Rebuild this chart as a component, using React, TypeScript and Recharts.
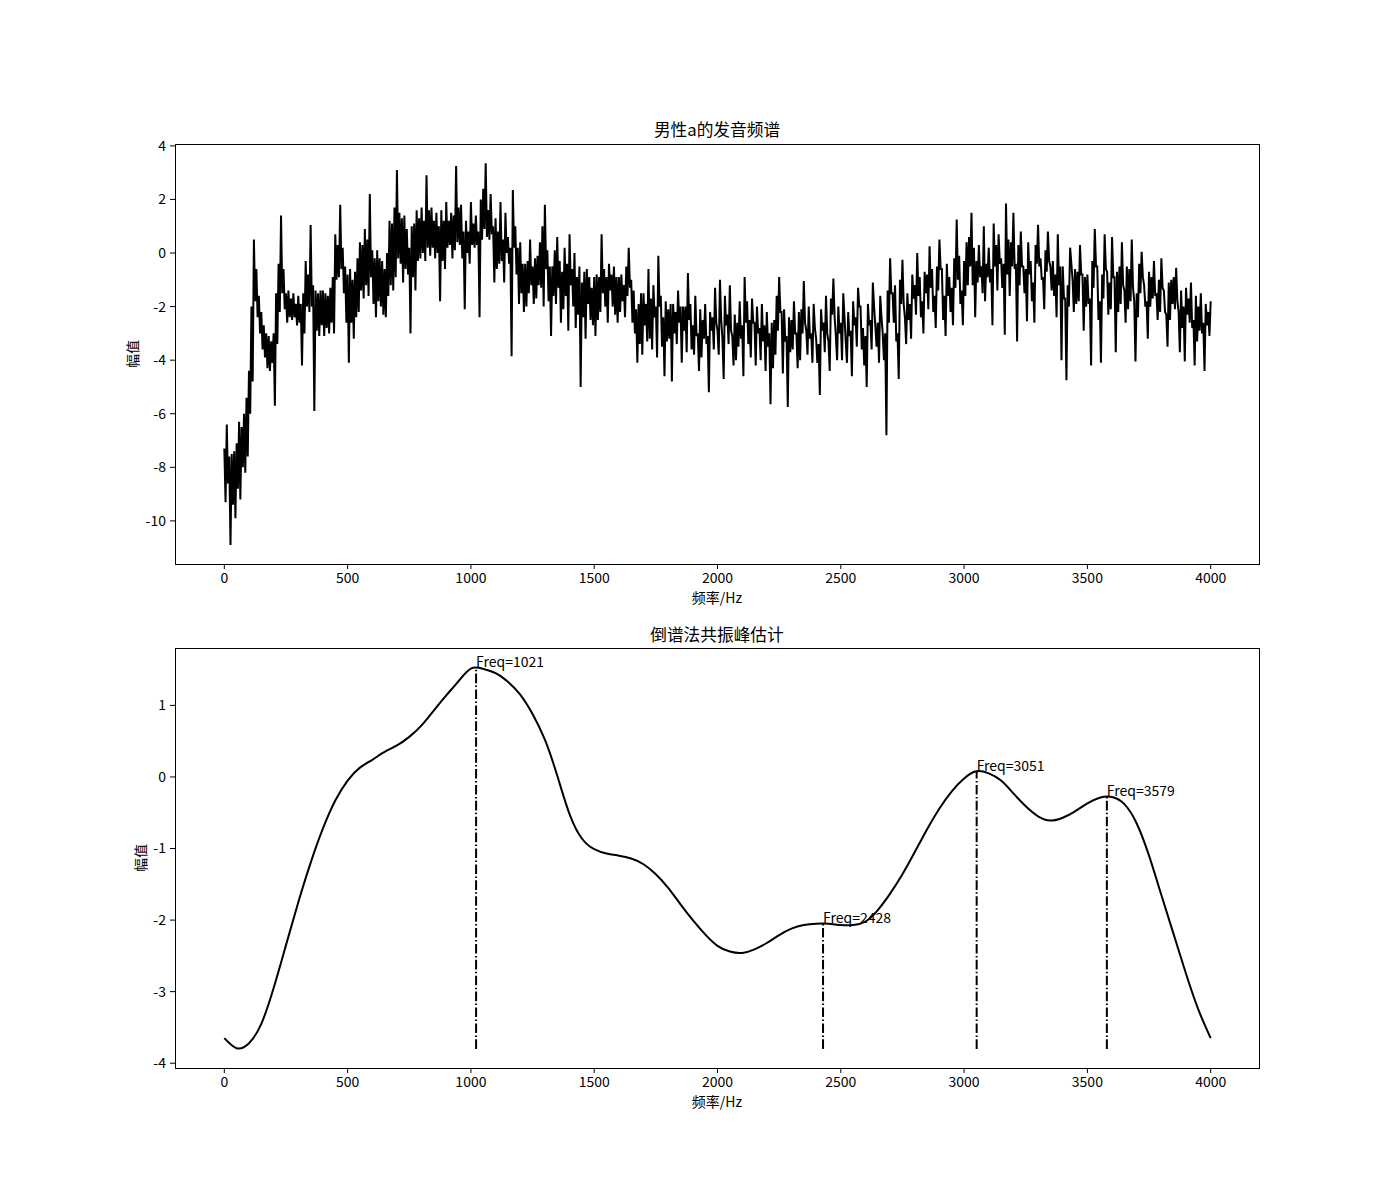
import React from 'react'
import { LineChart, ComposedChart, Line, XAxis, YAxis, ReferenceLine, ReferenceDot } from 'recharts'

const FONT = '"Noto Sans CJK SC", "Noto Sans", sans-serif'

// spectrum of male /a/, one value every 5 Hz from 0 to 4000 Hz (20 per row = 100 Hz)
const specStep = 5
const specAmp = [
  -7.3, -9.3, -6.4, -8.6, -7.6, -10.9, -7.5, -9.4, -7.4, -9.9, -7.1, -8.8, -6.3, -9.2, -6.5, -8.0, -6.0, -8.2, -5.4, -7.6,
  -4.4, -6.0, -2.0, -4.8, 0.5, -1.8, -0.6, -2.4, -1.6, -3.0, -2.2, -3.6, -2.7, -3.9, -3.0, -4.3, -3.1, -4.4, -3.3, -4.1,
  -3.0, -5.7, -1.5, -3.4, -0.4, -2.2, 1.4, -1.5, -0.6, -2.1, -1.5, -2.6, -1.4, -2.4, -1.7, -2.5, -1.5, -2.4, -1.9, -2.7,
  -1.6, -2.6, -1.9, -4.2, -1.5, -3.0, -0.3, -2.0, -0.8, -2.2, 1.05, -2.0, -1.2, -5.9, -1.4, -2.9, -1.5, -3.1, -1.4, -2.7,
  -1.4, -3.1, -1.5, -2.8, -1.6, -3.0, -1.3, -2.6, -0.9, -3.0, 0.7, -1.0, 0.3, -0.9, 1.8, -0.6, 0.2, -1.5, -0.5, -2.6,
  -0.8, -4.1, -0.6, -2.6, -1.0, -3.2, -0.7, -2.4, -0.2, -2.2, 0.4, -1.4, 0.3, -1.7, 0.9, -1.2, 0.5, -1.6, 2.2, -0.9,
  0.1, -1.9, -0.2, -2.4, 0.1, -1.8, -0.2, -2.0, -0.3, -2.3, -0.6, -2.4, 0.0, -1.6, 1.2, -1.2, 1.1, -1.4, 1.7, -0.9,
  3.1, -0.2, 1.5, -0.4, 1.3, -1.1, 1.4, -0.6, 0.9, -0.8, 0.2, -3.0, 1.0, -0.9, 1.1, -1.4, 1.6, -0.3, 1.3, -0.2,
  1.7, 0.0, 1.2, -0.3, 2.9, 0.2, 1.6, -0.1, 1.7, 0.2, 1.2, -0.2, 1.5, 0.0, 1.0, -1.8, 1.6, -0.3, 1.2, -0.6,
  1.9, 0.2, 1.2, 0.3, 1.5, -0.2, 1.4, 0.1, 3.25, 0.4, 1.7, 0.3, 1.8, -0.2, 0.8, -2.1, 1.2, 0.0, 0.8, -0.4,
  1.9, 0.3, 1.1, 0.2, 1.4, 0.3, 0.8, -2.4, 2.0, 0.5, 2.4, 0.9, 3.35, 0.6, 1.6, 0.5, 2.2, 0.7, 1.0, -1.1,
  1.3, -0.6, 0.8, -0.4, 1.9, -0.3, 0.5, -1.1, 1.5, 0.0, 0.6, -0.4, 0.2, -3.85, 2.35, 0.2, 1.0, -0.8, 0.2, -1.9,
  0.4, -1.5, -0.4, -2.2, -0.4, -2.0, -0.3, -1.5, 0.5, -1.2, -0.5, -1.9, -0.2, -1.7, -0.1, -1.2, 0.4, -1.3, 1.0, -2.0,
  1.8, -0.6, 0.1, -1.8, -0.5, -3.1, -0.5, -1.6, 0.1, -1.9, 0.6, -1.3, -0.3, -2.6, -0.7, -2.1, 0.2, -1.6, -0.4, -2.9,
  0.7, -1.2, -0.6, -2.0, 0.0, -2.8, -0.9, -2.3, -0.5, -5.0, -1.1, -2.4, -0.7, -3.2, -0.6, -1.9, -0.9, -2.5, -1.3, -2.7,
  -0.9, -3.1, -0.8, -2.5, -0.9, -2.2, 0.7, -1.5, -0.6, -2.0, -0.9, -2.6, -0.4, -1.4, -0.8, -2.0, -0.5, -2.3, -0.9, -2.6,
  -0.9, -2.2, -0.8, -1.8, -1.2, -2.4, -0.5, -1.6, 0.2, -1.3, -1.0, -2.6, -1.4, -3.0, -2.1, -4.1, -1.9, -3.4, -1.5, -3.8,
  -1.5, -2.7, -1.9, -3.3, -0.6, -3.2, -1.7, -3.6, -1.2, -2.4, -2.0, -3.9, -0.1, -2.0, -1.6, -3.5, -2.4, -4.6, -1.8, -3.3,
  -2.1, -3.2, -1.9, -4.8, -1.9, -3.0, -2.2, -3.4, -1.4, -2.6, -2.0, -4.1, -2.0, -2.9, -2.0, -3.7, -0.75, -2.5, -1.9, -3.6,
  -2.7, -3.8, -1.6, -3.1, -3.0, -4.4, -2.1, -3.9, -2.5, -3.2, -1.9, -3.4, -3.1, -5.2, -2.2, -2.9, -2.4, -3.6, -1.3, -2.6,
  -2.9, -3.8, -1.0, -2.5, -3.2, -4.7, -1.6, -2.7, -2.3, -3.4, -1.2, -2.9, -3.1, -4.2, -2.3, -4.0, -2.6, -3.5, -1.8, -3.2,
  -2.7, -4.6, -0.9, -2.6, -1.8, -3.4, -2.5, -3.9, -1.7, -2.6, -2.6, -4.2, -2.0, -3.0, -2.8, -4.0, -1.9, -3.3, -2.7, -4.4,
  -2.2, -3.5, -3.0, -5.65, -2.6, -4.3, -2.5, -3.8, -1.6, -2.9, -0.9, -2.2, -2.2, -4.5, -2.1, -3.3, -3.1, -5.75, -2.4, -3.7,
  -2.5, -3.6, -1.8, -3.0, -3.0, -4.3, -2.2, -4.0, -2.1, -3.0, -1.05, -2.6, -2.9, -3.8, -2.0, -3.2, -3.0, -4.1, -1.9, -2.8,
  -3.2, -4.1, -3.4, -5.3, -2.1, -2.9, -2.6, -3.7, -1.6, -3.0, -3.3, -4.4, -1.7, -2.3, -0.95, -2.4, -3.1, -4.0, -2.0, -3.0,
  -2.6, -4.0, -1.5, -2.4, -3.3, -4.1, -2.2, -3.1, -2.9, -4.6, -1.8, -2.7, -2.4, -3.5, -1.3, -2.0, -2.0, -3.6, -2.8, -4.2,
  -3.1, -5.0, -1.9, -2.7, -2.5, -3.6, -1.1, -2.0, -2.7, -3.5, -2.6, -4.1, -1.6, -2.4, -3.0, -4.0, -3.0, -6.8, -1.4, -2.6,
  -0.2, -1.5, -1.5, -2.6, -1.2, -3.3, -3.0, -4.7, -1.0, -1.9, -0.25, -1.9, -2.4, -3.4, -1.5, -2.5, -1.9, -3.2, -0.8, -1.7,
  -1.2, -2.3, 0.0, -1.6, -0.9, -2.4, -1.8, -3.0, -0.7, -1.5, -0.8, -2.1, 0.25, -1.3, -0.6, -2.2, -1.6, -2.8, -0.5, -1.4,
  0.5, -0.6, -0.6, -2.5, -1.6, -3.1, -0.4, -1.6, -0.9, -2.2, -1.3, -2.7, -0.2, -1.3, 1.25, -1.0, -0.1, -1.9, -1.4, -2.7,
  -0.3, -1.6, 0.4, -1.2, 0.6, -0.5, 1.5, -1.2, 0.2, -2.4, -0.3, -1.1, 0.3, -0.9, -0.5, -1.5, 1.0, -1.8, -0.4, -0.9,
  0.2, -1.1, -0.6, -2.7, 1.1, -0.5, 0.3, -1.4, 0.7, -0.4, -0.2, -1.3, -0.4, -3.05, 1.85, -0.8, 0.5, -1.6, 0.4, -0.5,
  1.5, -0.6, -0.4, -3.3, 0.3, -1.2, 0.8, -0.5, -0.5, -1.5, -0.6, -2.55, 0.4, -0.8, -0.3, -1.8, -1.1, -2.6, 0.3, -0.4,
  1.05, -0.5, -0.2, -1.0, -0.9, -2.1, 0.1, -0.7, 0.8, -0.3, -0.5, -1.4, -0.3, -1.6, -0.8, -2.4, 0.7, -1.2, -0.5, -4.0,
  -0.5, -1.7, -1.7, -4.75, -1.2, -2.0, 0.2, -0.4, -1.0, -2.2, -0.6, -1.9, -0.7, -1.8, 0.3, -0.8, -0.8, -2.9, -0.9, -2.0,
  -0.8, -1.9, -1.7, -4.2, -0.3, -1.3, 0.9, -0.5, -0.5, -2.5, -1.8, -4.1, -0.8, -1.7, 0.7, -0.6, -0.7, -2.3, -1.1, -2.1,
  0.6, -0.9, -0.9, -3.7, -0.7, -2.2, -0.5, -1.9, 0.4, -1.2, -1.4, -2.6, -0.5, -2.1, -0.6, -1.8, 0.5, -1.3, -1.8, -4.05,
  -1.5, -2.4, -0.4, -1.5, 0.05, -0.9, -1.2, -2.0, -1.8, -3.2, -0.7, -2.0, -0.9, -1.7, -0.3, -1.6, -1.5, -2.5, -1.0, -2.2,
  -0.2, -1.3, -1.4, -2.2, -2.3, -3.5, -1.1, -2.5, -1.0, -1.9, -0.9, -2.1, -0.55, -1.8, -2.2, -3.7, -1.4, -2.8, -2.0, -4.05,
  -1.3, -2.3, -1.7, -2.6, -1.1, -2.8, -2.5, -4.2, -1.6, -3.3, -2.0, -2.9, -1.5, -3.0, -2.6, -4.4, -1.9, -2.7, -2.2, -3.1,
  -1.8,
]

// cepstrum-smoothed envelope, every 50 Hz
const cepStep = 50
const cepAmp = [
  -3.65, -3.79, -3.72, -3.45, -2.95, -2.35, -1.75, -1.2, -0.72, -0.33,
  -0.05, 0.13, 0.24, 0.35, 0.44, 0.56, 0.72, 0.93, 1.14, 1.34,
  1.515, 1.51, 1.45, 1.33, 1.15, 0.88, 0.52, 0.02, -0.52, -0.86,
  -1.01, -1.07, -1.1, -1.14, -1.22, -1.36, -1.55, -1.78, -2.0, -2.2,
  -2.36, -2.44, -2.46, -2.41, -2.32, -2.21, -2.12, -2.07, -2.05, -2.05,
  -2.07, -2.07, -2.02, -1.86, -1.63, -1.36, -1.05, -0.73, -0.44, -0.2,
  -0.02, 0.08, 0.05, -0.05, -0.23, -0.41, -0.55, -0.61, -0.57, -0.48,
  -0.37, -0.29, -0.28, -0.38, -0.65, -1.1, -1.65, -2.2, -2.75, -3.25,
  -3.65,
]

const peakFreq = [1021, 2428, 3051, 3579]
const peakAmp = [1.535, -2.045, 0.08, -0.27]
const peakBase = -3.8

const freqTicks = [0, 500, 1000, 1500, 2000, 2500, 3000, 3500, 4000]
const specTicks = [4, 2, 0, -2, -4, -6, -8, -10]
const cepTicks = [1, 0, -1, -2, -3, -4]

const specData = specAmp.map((v, i) => ({ f: i * specStep, v }))
const cepData = cepAmp.map((v, i) => ({ f: i * cepStep, v }))

const tickStyle = { fontSize: 14, fill: '#000', fontFamily: FONT }

const Frame = ({ top }: { top: number }) => (
  <div
    style={{
      position: 'absolute', left: 175, top, width: 1085, height: 421,
      border: '1px solid #000', boxSizing: 'border-box', pointerEvents: 'none',
    }}
  />
)

const Text = ({ x, y, size, children, rotate }: any) => (
  <div
    style={{
      position: 'absolute', left: x - 100, top: y - 12, width: 200, height: 24, lineHeight: '24px',
      textAlign: 'center', fontSize: size, fontFamily: FONT, color: '#000',
      transform: rotate ? 'rotate(-90deg)' : undefined, whiteSpace: 'nowrap',
    }}
  >
    {children}
  </div>
)

const margin = { top: 144, right: 140, bottom: 0, left: 0 }

const App = () => {
  return (
    <div style={{ position: 'absolute', left: 0, top: 0, width: 1400, height: 1200, background: '#fff' }}>
      <div style={{ position: 'absolute', left: 0, top: 0 }}>
        <LineChart width={1400} height={620} data={specData} margin={margin}>
          <XAxis
            dataKey="f" type="number" domain={[-200, 4200]} ticks={freqTicks} allowDataOverflow
            height={56} axisLine={false} tickSize={5} tickMargin={4}
            tickLine={{ stroke: '#000' }} tick={tickStyle}
          />
          <YAxis
            type="number" domain={[-11.61, 4.07]} ticks={specTicks} allowDataOverflow
            width={175} axisLine={false} tickSize={5} tickMargin={4}
            tickLine={{ stroke: '#000' }} tick={tickStyle}
          />
          <Line dataKey="v" type="linear" stroke="#000" strokeWidth={2} dot={false} isAnimationActive={false} />
        </LineChart>
      </div>
      <Frame top={144} />

      <div style={{ position: 'absolute', left: 0, top: 504 }}>
        <ComposedChart width={1400} height={620} data={cepData} margin={margin}>
          <XAxis
            dataKey="f" type="number" domain={[-200, 4200]} ticks={freqTicks} allowDataOverflow
            height={56} axisLine={false} tickSize={5} tickMargin={4}
            tickLine={{ stroke: '#000' }} tick={tickStyle}
          />
          <YAxis
            type="number" domain={[-4.067, 1.802]} ticks={cepTicks} allowDataOverflow
            width={175} axisLine={false} tickSize={5} tickMargin={4}
            tickLine={{ stroke: '#000' }} tick={tickStyle}
          />
          <Line dataKey="v" type="natural" stroke="#000" strokeWidth={2} dot={false} isAnimationActive={false} />
          {peakFreq.map((f, i) => (
            <ReferenceLine
              key={'l' + f}
              segment={[{ x: f, y: peakBase }, { x: f, y: peakAmp[i] }]}
              stroke="#000" strokeWidth={2} strokeDasharray="9.6 2.4 1.5 2.4"
            />
          ))}
          {peakFreq.map((f, i) => (
            <ReferenceDot
              key={'t' + f}
              x={f} y={peakAmp[i]} r={0} ifOverflow="visible"
              shape={(p: any) => (
                <text x={p.cx} y={p.cy} fontSize={14} fontFamily={FONT} fill="#000" textAnchor="start">
                  {'Freq=' + f}
                </text>
              )}
            />
          ))}
        </ComposedChart>
      </div>
      <Frame top={648} />

      <Text x={717} y={129} size={16.7}>男性a的发音频谱</Text>
      <Text x={717} y={597} size={14}>频率/Hz</Text>
      <Text x={132} y={354} size={14} rotate>幅值</Text>

      <Text x={717} y={634} size={16.7}>倒谱法共振峰估计</Text>
      <Text x={717} y={1101} size={14}>频率/Hz</Text>
      <Text x={140} y={858} size={14} rotate>幅值</Text>
    </div>
  )
}

export default App
